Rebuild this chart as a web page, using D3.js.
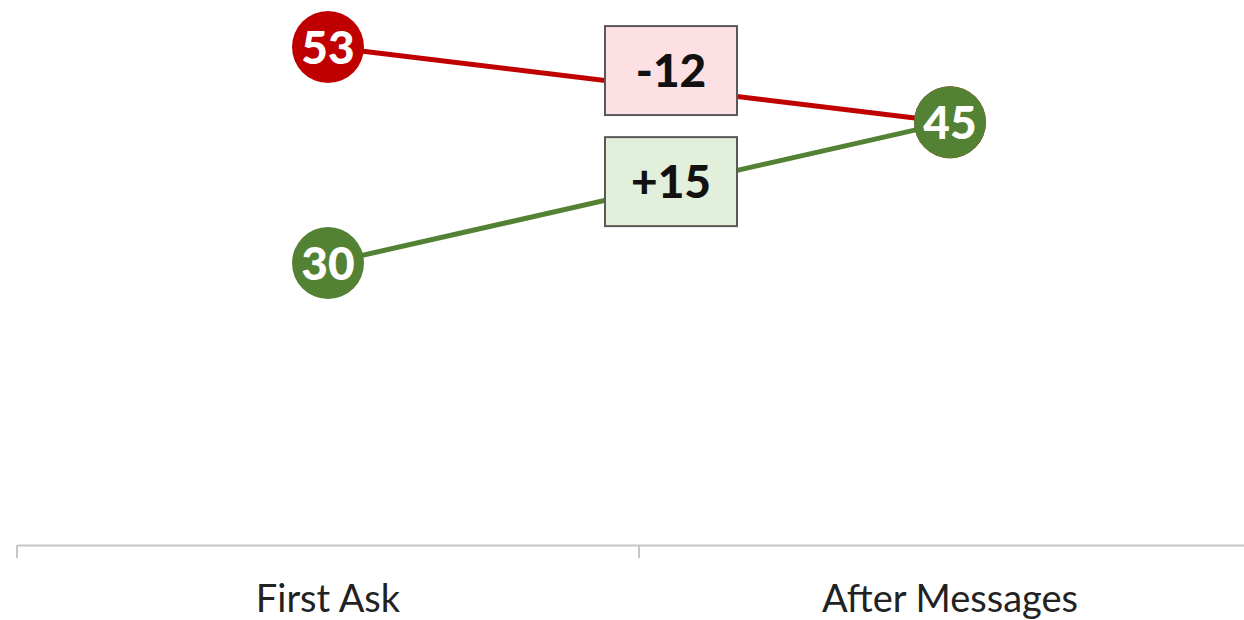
<!DOCTYPE html>
<html><head><meta charset="utf-8">
<script src="https://cdn.jsdelivr.net/npm/d3@7"></script>
<style>html,body{margin:0;padding:0;background:#fff;}svg{display:block;}</style>
</head><body><svg id="c" width="1244" height="620"></svg>
<script>
const categories = ["First Ask", "After Messages"];
const seriesNames = ["Declined", "Improved"];
const declinedValues = [53, 45];
const improvedValues = [30, 45];
const changeLabels = ["-12", "+15"];
const seriesColors = ["#c00000", "#548235"];
const boxFills = ["#fde0e3", "#e2efda"];

const svg = d3.select("#c");
const x = d3.scaleBand().domain(categories).range([17, 1261]).padding(0);
const y = d3.scaleLinear().domain([0, 58]).range([545, 0]);
const font = "Lato, 'Open Sans', sans-serif";

// axis
const axis = d3.axisBottom(x).tickSize(0).tickFormat("");
const ag = svg.append("g").attr("transform", "translate(0,545)").call(axis);
ag.select(".domain").attr("stroke", "#c6c6c6").attr("stroke-width", 2);
const bounds = [x.range()[0], x(categories[1]), x.range()[1]];
svg.selectAll("line.tk").data(bounds).join("line").attr("class","tk")
  .attr("x1", d=>d).attr("x2", d=>d).attr("y1", 545).attr("y2", 558)
  .attr("stroke", "#c6c6c6").attr("stroke-width", 2);
svg.selectAll("text.cat").data(categories).join("text").attr("class","cat")
  .attr("x", d => x(d) + x.bandwidth()/2).attr("y", 612)
  .attr("text-anchor","middle").attr("font-family", font).attr("font-size", 38)
  .attr("fill", "#222").text(d=>d);

const series = [declinedValues, improvedValues];
const cx = d => x(d) + x.bandwidth()/2;
const line = d3.line().x((d,i)=>cx(categories[i])).y(d=>y(d));

series.forEach((vals, s) => {
  svg.append("path").datum(vals).attr("d", line).attr("fill","none")
    .attr("stroke", seriesColors[s]).attr("stroke-width", 5);
});

// change boxes
const boxOffsets = [-14, -11];
series.forEach((vals, s) => {
  const mx = (cx(categories[0]) + cx(categories[1]))/2 + 32;
  const my = (y(vals[0]) + y(vals[1]))/2 + boxOffsets[s];
  const w = 132, h = 89;
  svg.append("rect").attr("x", mx - w/2).attr("y", my - h/2).attr("width", w).attr("height", h)
    .attr("fill", boxFills[s]).attr("stroke", "#595959").attr("stroke-width", 2);
  svg.append("text").attr("x", mx).attr("y", my).attr("dy","0.36em")
    .attr("text-anchor","middle").attr("font-family", font).attr("font-weight","900")
    .attr("font-size", 46).attr("fill","#111").text(changeLabels[s]);
});

// circles: draw red first then green so green on top
series.forEach((vals, s) => {
  const g = svg.append("g");
  vals.forEach((v, i) => {
    g.append("circle").attr("cx", cx(categories[i])).attr("cy", y(v)).attr("r", 36)
      .attr("fill", seriesColors[s]);
    g.append("text").attr("x", cx(categories[i])).attr("y", y(v)).attr("dy","0.36em")
      .attr("text-anchor","middle").attr("font-family", font).attr("font-weight","900")
      .attr("font-size", 46).attr("fill","#fff").text(v);
  });
});
</script></body></html>
